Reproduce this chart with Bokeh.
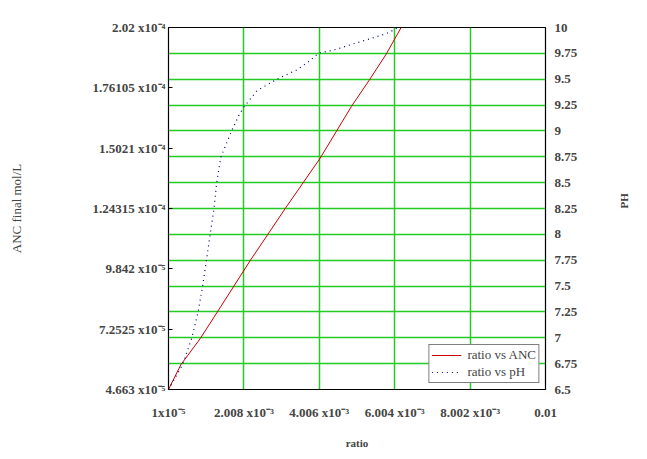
import math
from bokeh.plotting import figure
from bokeh.models import Range1d, LinearAxis, FixedTicker, Grid, Legend, LegendItem
from bokeh.embed import file_html
from bokeh.resources import INLINE

# ratio vs ANC (red solid)
anc_ratio = [1.0e-5, 3.39e-4, 8.47e-4, 1.305e-3, 2.182e-3, 3.103e-3, 4.024e-3,
             4.859e-3, 5.341e-3, 5.780e-3, 6.175e-3]
anc_value = [4.663e-5, 5.730e-5, 6.840e-5, 7.992e-5, 1.0212e-4, 1.2431e-4, 1.4579e-4,
             1.6815e-4, 1.7968e-4, 1.906e-4, 2.02e-4]

# ratio vs pH (blue dotted)
ph_ratio = [1.0e-5, 3.84e-4, 6.21e-4, 7.94e-4, 9.10e-4, 1.016e-3, 1.110e-3, 1.216e-3,
            1.287e-3, 1.392e-3, 1.479e-3, 1.682e-3, 1.874e-3, 2.005e-3, 2.358e-3,
            2.885e-3, 3.411e-3, 3.761e-3, 3.980e-3, 4.464e-3, 4.893e-3, 5.341e-3,
            5.780e-3, 5.999e-3, 6.078e-3]
ph_value = [6.5, 6.74, 6.99, 7.25, 7.49, 7.75, 7.99, 8.25, 8.5, 8.74, 8.82, 9.0, 9.15,
            9.23, 9.39, 9.5, 9.59, 9.68, 9.75, 9.79, 9.84, 9.89, 9.94, 9.98, 10.0]

x_ticks = [1e-5, 2.008e-3, 4.006e-3, 6.004e-3, 8.002e-3, 0.01]
x_tick_labels = ["1x10\u207b\u2075", "2.008 x10\u207b\u00b3", "4.006 x10\u207b\u00b3",
                 "6.004 x10\u207b\u00b3", "8.002 x10\u207b\u00b3", "0.01"]
anc_ticks = [4.663e-5, 7.2525e-5, 9.842e-5, 1.24315e-4, 1.5021e-4, 1.76105e-4, 2.02e-4]
anc_tick_labels = ["4.663 x10\u207b\u2075", "7.2525 x10\u207b\u2075", "9.842 x10\u207b\u2075",
                   "1.24315 x10\u207b\u2074", "1.5021 x10\u207b\u2074", "1.76105 x10\u207b\u2074",
                   "2.02 x10\u207b\u2074"]
ph_ticks = [6.5, 6.75, 7, 7.25, 7.5, 7.75, 8, 8.25, 8.5, 8.75, 9, 9.25, 9.5, 9.75, 10]
ph_tick_labels = ["6.5", "6.75", "7", "7.25", "7.5", "7.75", "8", "8.25", "8.5", "8.75",
                  "9", "9.25", "9.5", "9.75", "10"]

SERIF = "Liberation Serif"
GREEN = "#22cc22"

p = figure(width=639, height=451, output_backend="svg", toolbar_location=None,
           x_range=Range1d(1e-5, 0.01), y_range=Range1d(4.663e-5, 2.02e-4),
           min_border_left=168, min_border_right=94, min_border_top=27, min_border_bottom=60,
           x_axis_label="ratio", y_axis_label="ANC final mol/L")
p.extra_y_ranges = {"ph": Range1d(6.5, 10)}
p.outline_line_color = "black"
p.outline_line_width = 1.2
p.background_fill_color = "white"

# grids
p.xgrid.ticker = FixedTicker(ticks=x_ticks)
p.xgrid.grid_line_color = GREEN
p.xgrid.grid_line_width = 1.5
p.ygrid.visible = False
ph_grid = Grid(dimension=1, ticker=FixedTicker(ticks=ph_ticks), y_range_name="ph",
               grid_line_color=GREEN, grid_line_width=1.5)
p.add_layout(ph_grid)

# bottom axis
xa = p.xaxis[0]
xa.ticker = FixedTicker(ticks=x_ticks)
xa.major_label_overrides = {t: l for t, l in zip(x_ticks, x_tick_labels)}
xa.major_tick_line_color = None
xa.minor_tick_line_color = None
xa.axis_line_color = "black"
xa.major_label_text_font = SERIF
xa.major_label_text_font_style = "bold"
xa.major_label_text_font_size = "13px"
xa.major_label_standoff = 9
xa.axis_label_text_font = SERIF
xa.axis_label_text_font_style = "bold"
xa.axis_label_text_font_size = "11px"
xa.axis_label_standoff = 14

# left axis
ya = p.yaxis[0]
ya.ticker = FixedTicker(ticks=anc_ticks)
ya.major_label_overrides = {t: l for t, l in zip(anc_ticks, anc_tick_labels)}
ya.major_tick_in = 4
ya.major_tick_out = 0
ya.minor_tick_line_color = None
ya.major_label_text_font = SERIF
ya.major_label_text_font_style = "bold"
ya.major_label_text_font_size = "13px"
ya.major_label_standoff = 3
ya.axis_label_text_font = SERIF
ya.axis_label_text_font_style = "normal"
ya.axis_label_text_font_size = "13px"
ya.axis_label_standoff = 66

# right axis
ra = LinearAxis(y_range_name="ph", axis_label="PH",
                ticker=FixedTicker(ticks=ph_ticks))
ra.major_label_overrides = {t: l for t, l in zip(ph_ticks, ph_tick_labels)}
ra.major_tick_line_color = None
ra.minor_tick_line_color = None
ra.major_label_text_font = SERIF
ra.major_label_text_font_style = "bold"
ra.major_label_text_font_size = "13px"
ra.major_label_standoff = 3
ra.axis_label_text_font = SERIF
ra.axis_label_text_font_style = "bold"
ra.axis_label_text_font_size = "11px"
ra.axis_label_standoff = 44
ra.axis_label_orientation = math.pi / 2
p.add_layout(ra, "right")

r1 = p.line(anc_ratio, anc_value, line_color="#cc0000", line_width=1)
r2 = p.line(ph_ratio, ph_value, y_range_name="ph", line_color="#000080",
            line_width=1.2, line_dash="1 4")

legend = Legend(items=[LegendItem(label="ratio vs ANC", renderers=[r1]),
                       LegendItem(label="ratio vs pH", renderers=[r2])],
                location="bottom_right")
legend.label_text_font = SERIF
legend.label_text_font_size = "13px"
legend.border_line_color = "black"
legend.border_line_width = 1
legend.background_fill_alpha = 1
legend.margin = 6
legend.padding = 2
legend.spacing = 1
legend.label_height = 16
legend.glyph_height = 16
legend.glyph_width = 30
legend.label_standoff = 6
p.add_layout(legend, "center")

open("out.html", "w").write(file_html(p, INLINE))
